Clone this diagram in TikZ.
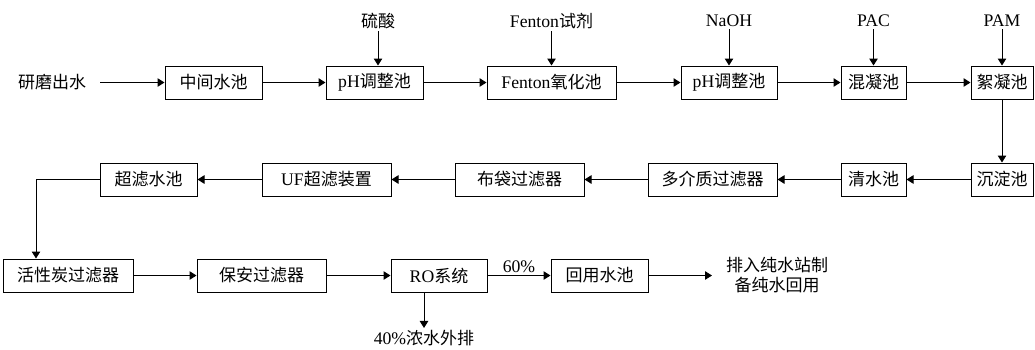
\documentclass[tikz,border=0pt]{standalone}
\usepackage{fontspec}
\setmainfont{Liberation Serif}[Scale=1.04]
\newfontfamily\cjk{Noto Sans CJK SC}
\usetikzlibrary{arrows.meta}
\begin{document}
\begin{tikzpicture}[x=1pt,y=-1pt,
  box/.style={draw,line width=1pt,minimum height=33pt,inner sep=0pt,font=\fontsize{17}{20}\selectfont},
  lbl/.style={inner sep=2pt,font=\fontsize{17}{20}\selectfont},
  flow/.style={line width=1pt,-{Triangle[length=7pt,width=8.5pt]}},
  plain/.style={line width=1pt}]
\useasboundingbox (0,0) rectangle (1035,349);
% row 1
\node[lbl] (src) at (52,82.5) {\cjk 研磨出水};
\node[box,minimum width=97pt] (b1) at (213.5,82.5) {\cjk 中间水池};
\node[box,minimum width=97pt] (b2) at (374.5,82.5) {pH{\cjk 调整池}};
\node[box,minimum width=129pt] (b3) at (551.5,82.5) {Fenton{\cjk 氧化池}};
\node[box,minimum width=96pt] (b4) at (729,82.5) {pH{\cjk 调整池}};
\node[box,minimum width=65pt] (b5) at (873.5,82.5) {\cjk 混凝池};
\node[box,minimum width=62pt] (b6) at (1002,82.5) {\cjk 絮凝池};
% dosing labels
\node[lbl] (l2) at (378,21) {\cjk 硫酸};
\node[lbl] (l3) at (551.5,21) {Fenton{\cjk 试剂}};
\node[lbl] (l4) at (729,21) {NaOH};
\node[lbl] (l5) at (873.5,21) {PAC};
\node[lbl] (l6) at (1002,21) {PAM};
% row 2
\node[box,minimum width=62pt] (c6) at (1002,179.5) {\cjk 沉淀池};
\node[box,minimum width=65pt] (c5) at (873.5,179.5) {\cjk 清水池};
\node[box,minimum width=129pt] (c4) at (712.5,179.5) {\cjk 多介质过滤器};
\node[box,minimum width=129pt] (c3) at (519.5,179.5) {\cjk 布袋过滤器};
\node[box,minimum width=129pt] (c2) at (326.5,179.5) {UF{\cjk 超滤装置}};
\node[box,minimum width=97pt] (c1) at (148.5,179.5) {\cjk 超滤水池};
% row 3
\node[box,minimum width=130pt] (d1) at (68,275.5) {\cjk 活性炭过滤器};
\node[box,minimum width=129pt] (d2) at (261.5,275.5) {\cjk 保安过滤器};
\node[box,minimum width=96pt] (d3) at (439,275.5) {RO{\cjk 系统}};
\node[box,minimum width=97pt] (d4) at (599.5,275.5) {\cjk 回用水池};
\node[lbl,align=center] (out) at (777,275) {{\cjk 排入纯水站制}\\{\cjk 备纯水回用}};
\node[lbl] (conc) at (424,338) {40\%{\cjk 浓水外排}};
\coordinate (src0) at (100,82.5);
\coordinate (turn) at (36,179.5);
\coordinate (outin) at (712,275.5);
% connectors row 1
\draw[flow] (src0) -- (b1);
\draw[flow] (b1) -- (b2);
\draw[flow] (b2) -- (b3);
\draw[flow] (b3) -- (b4);
\draw[flow] (b4) -- (b5);
\draw[flow] (b5) -- (b6);
\foreach \l/\b in {l2/b2,l3/b3,l4/b4,l5/b5,l6/b6}
  \draw[flow] (\l.south) -- (\l.south |- \b.north);
% down
\draw[flow] (b6) -- (c6);
% row 2
\draw[flow] (c6) -- (c5);
\draw[flow] (c5) -- (c4);
\draw[flow] (c4) -- (c3);
\draw[flow] (c3) -- (c2);
\draw[flow] (c2) -- (c1);
\draw[flow] (c1.west) -- (turn) -- (turn |- d1.north);
% row 3
\draw[flow] (d1) -- (d2);
\draw[flow] (d2) -- (d3);
\draw[flow] (d3) -- node[lbl,above=0pt] {60\%} (d4);
\draw[flow] (d4) -- (outin);
\draw[flow] (conc.north |- d3.south) -- (conc.north);
\end{tikzpicture}
\end{document}
